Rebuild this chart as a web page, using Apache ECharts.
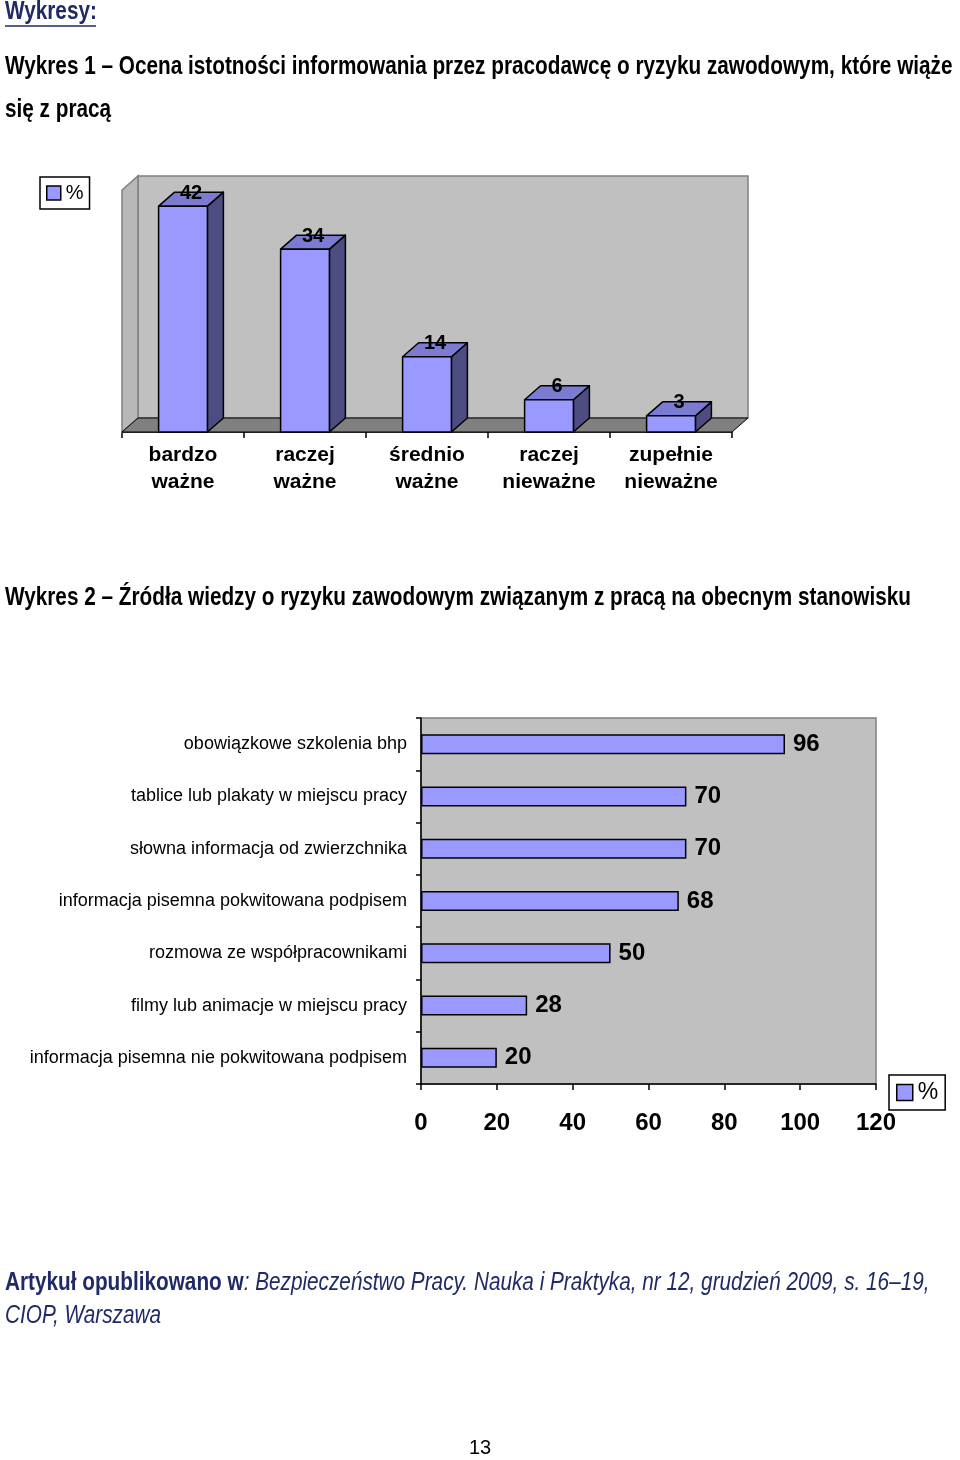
<!DOCTYPE html>
<html><head><meta charset="utf-8">
<script src="https://cdn.jsdelivr.net/npm/echarts@6/dist/echarts.min.js"></script>
<style>html,body{margin:0;padding:0;background:#fff}#c{width:960px;height:1460px}</style>
</head><body><div id="c"></div>
<script>
const cats1 = ['bardzo\nważne', 'raczej\nważne', 'średnio\nważne', 'raczej\nnieważne', 'zupełnie\nnieważne'];
const vals1 = [42, 34, 14, 6, 3];
const cats2 = ['obowiązkowe szkolenia bhp', 'tablice lub plakaty w miejscu pracy', 'słowna informacja od zwierzchnika',
  'informacja pisemna pokwitowana podpisem', 'rozmowa ze współpracownikami', 'filmy lub animacje w miejscu pracy',
  'informacja pisemna nie pokwitowana podpisem'];
const vals2 = [96, 70, 70, 68, 50, 28, 20];
const xMin2 = 0, xMax2 = 120, xStep2 = 20;
const yMax1 = 45;

const NAVY = '#1F2A66';
const FONT = '"Liberation Sans", Arial, sans-serif';
const DX = 16, DY = -14;
const FRONT = '#9999FF', TOP = '#7B7BD2', SIDE = '#4D4D82';

const chart = echarts.init(document.getElementById('c'), null, {renderer: 'canvas'});

function wallsRender(params, api) {
  const c = params.coordSys;
  const x = c.x, y = c.y, w = c.width, h = c.height;
  return {type: 'group', children: [
    {type: 'polygon', shape: {points: [[x + DX, y + DY], [x + w + DX, y + DY], [x + w + DX, y + h + DY], [x + DX, y + h + DY]]},
      style: {fill: '#C0C0C0', stroke: '#808080', lineWidth: 1.5}},
    {type: 'polygon', shape: {points: [[x, y + h], [x + DX, y + h + DY], [x + DX, y + DY], [x, y]]},
      style: {fill: '#B8B8B8', stroke: '#808080', lineWidth: 1.5}},
    {type: 'polygon', shape: {points: [[x, y + h], [x + DX, y + h + DY], [x + w + DX, y + h + DY], [x + w, y + h]]},
      style: {fill: '#808080', stroke: '#000', lineWidth: 1}}
  ]};
}

function barRender(params, api) {
  const i = api.value(0), v = api.value(1);
  const p1 = api.coord([i, v]);
  const p0 = api.coord([i, 0]);
  const w = api.size([1, 0])[0] * 0.4;
  const l = p1[0] - w / 2, r = p1[0] + w / 2, t = p1[1], b = p0[1];
  const st = {stroke: '#000', lineWidth: 1.5, lineJoin: 'round'};
  return {type: 'group', children: [
    {type: 'polygon', shape: {points: [[r, t], [r + DX, t + DY], [r + DX, b + DY], [r, b]]}, style: Object.assign({fill: SIDE}, st)},
    {type: 'polygon', shape: {points: [[l, t], [l + DX, t + DY], [r + DX, t + DY], [r, t]]}, style: Object.assign({fill: TOP}, st)},
    {type: 'rect', shape: {x: l, y: t, width: w, height: b - t}, style: Object.assign({fill: FRONT}, st)},
    {type: 'text', x: p1[0] + DX / 2, y: t + DY + 1,
      style: {text: String(v), font: 'bold 20px ' + FONT, fill: '#000', align: 'center', verticalAlign: 'middle',
        textAlign: 'center', textVerticalAlign: 'middle'}}
  ]};
}

function txt(x, y, text, font, fill, sx) {
  return {type: 'text', x: x, y: y, scaleX: sx || 1, silent: true,
    style: {text: text, font: font, fill: fill, align: 'left', verticalAlign: 'middle', textAlign: 'left', textVerticalAlign: 'middle'}};
}

const TSX = 0.83;
const option = {
  animation: false,
  backgroundColor: '#fff',
  graphic: [
    txt(5, 12, 'Wykresy:', 'bold 25px ' + FONT, NAVY, TSX),
    {type: 'line', shape: {x1: 5, y1: 26, x2: 96, y2: 26}, style: {stroke: NAVY, lineWidth: 1.5}},
    txt(5, 67, 'Wykres 1 – Ocena istotności informowania przez pracodawcę o ryzyku zawodowym, które wiąże', 'bold 25px ' + FONT, '#000', TSX),
    txt(5, 110, 'się z pracą', 'bold 25px ' + FONT, '#000', TSX),
    txt(5, 598, 'Wykres 2 – Źródła wiedzy o ryzyku zawodowym związanym z pracą na obecnym stanowisku', 'bold 25px ' + FONT, '#000', TSX),
    {type: 'text', x: 5, y: 1283, scaleX: TSX, silent: true,
      style: {text: '{b|Artykuł opublikowano w}{i|: Bezpieczeństwo Pracy. Nauka i Praktyka, nr 12, grudzień 2009, s. 16–19,}',
        verticalAlign: 'middle', textVerticalAlign: 'middle',
        rich: {b: {font: 'bold 25px ' + FONT, fill: NAVY, color: NAVY}, i: {font: 'italic 25px ' + FONT, fill: NAVY, color: NAVY}}}},
    txt(5, 1316, 'CIOP, Warszawa', 'italic 25px ' + FONT, NAVY, TSX),
    {type: 'text', x: 480, y: 1448, silent: true,
      style: {text: '13', font: '20px ' + FONT, fill: '#000', align: 'center', verticalAlign: 'middle', textAlign: 'center', textVerticalAlign: 'middle'}}
  ],
  legend: [
    {left: 40, top: 177, orient: 'horizontal', data: [{name: '%', icon: 'rect', itemStyle: {color: FRONT, borderColor: '#000', borderWidth: 1.5}}],
      itemWidth: 14, itemHeight: 14, itemGap: 4, padding: [6, 6, 6, 6], backgroundColor: '#fff', borderColor: '#000', borderWidth: 1.5,
      borderRadius: 0, selectedMode: false, textStyle: {fontSize: 20, fontFamily: FONT, color: '#000'}},
    {left: 889, top: 1075, orient: 'horizontal', data: [{name: '%', icon: 'rect', itemStyle: {color: FRONT, borderColor: '#000', borderWidth: 1.5}}],
      itemWidth: 16, itemHeight: 16, itemGap: 4, padding: [6, 7, 6, 7], backgroundColor: '#fff', borderColor: '#000', borderWidth: 1.5,
      borderRadius: 0, selectedMode: false, textStyle: {fontSize: 23, fontFamily: FONT, color: '#000'}}
  ],
  grid: [
    {left: 122, top: 190, width: 610, height: 242, containLabel: false},
    {left: 421, top: 718, width: 455, height: 366, containLabel: false, show: true, backgroundColor: '#C0C0C0', borderColor: '#808080', borderWidth: 1.5}
  ],
  xAxis: [
    {gridIndex: 0, type: 'category', data: cats1, boundaryGap: true,
      axisLine: {show: true, lineStyle: {color: '#000', width: 1.5}},
      axisTick: {show: true, length: 6, alignWithLabel: false, lineStyle: {color: '#000', width: 1.5}},
      axisLabel: {margin: 10, fontSize: 21, fontWeight: 'bold', fontFamily: FONT, color: '#000', lineHeight: 27, interval: 0},
      splitLine: {show: false}},
    {gridIndex: 1, type: 'value', min: xMin2, max: xMax2, interval: xStep2,
      axisLine: {show: true, lineStyle: {color: '#000', width: 1.5}},
      axisTick: {show: true, length: 6, lineStyle: {color: '#000', width: 1.5}},
      axisLabel: {margin: 27, fontSize: 24, fontWeight: 'bold', fontFamily: FONT, color: '#000'},
      splitLine: {show: false}}
  ],
  yAxis: [
    {gridIndex: 0, type: 'value', min: 0, max: yMax1, show: false, splitLine: {show: false}},
    {gridIndex: 1, type: 'category', data: cats2, inverse: true,
      axisLine: {show: true, lineStyle: {color: '#000', width: 1.5}},
      axisTick: {show: true, length: 5, alignWithLabel: false, lineStyle: {color: '#000', width: 1.5}},
      axisLabel: {margin: 14, fontSize: 18, fontFamily: FONT, color: '#000', interval: 0},
      splitLine: {show: false}}
  ],
  series: [
    {type: 'custom', name: 'walls', xAxisIndex: 0, yAxisIndex: 0, silent: true, z: 1,
      data: [[0, 0]], renderItem: wallsRender},
    {type: 'custom', name: '%', xAxisIndex: 0, yAxisIndex: 0, z: 3, silent: true,
      itemStyle: {color: FRONT},
      data: vals1.map((v, i) => [i, v]), encode: {x: 0, y: 1}, renderItem: barRender},
    {type: 'bar', name: '%', xAxisIndex: 1, yAxisIndex: 1, barWidth: 20, silent: true,
      data: vals2,
      itemStyle: {color: FRONT, borderColor: '#000', borderWidth: 1.5},
      label: {show: true, position: 'right', distance: 8, fontSize: 24, fontWeight: 'bold', fontFamily: FONT, color: '#000'}}
  ]
};
chart.setOption(option);
</script></body></html>
